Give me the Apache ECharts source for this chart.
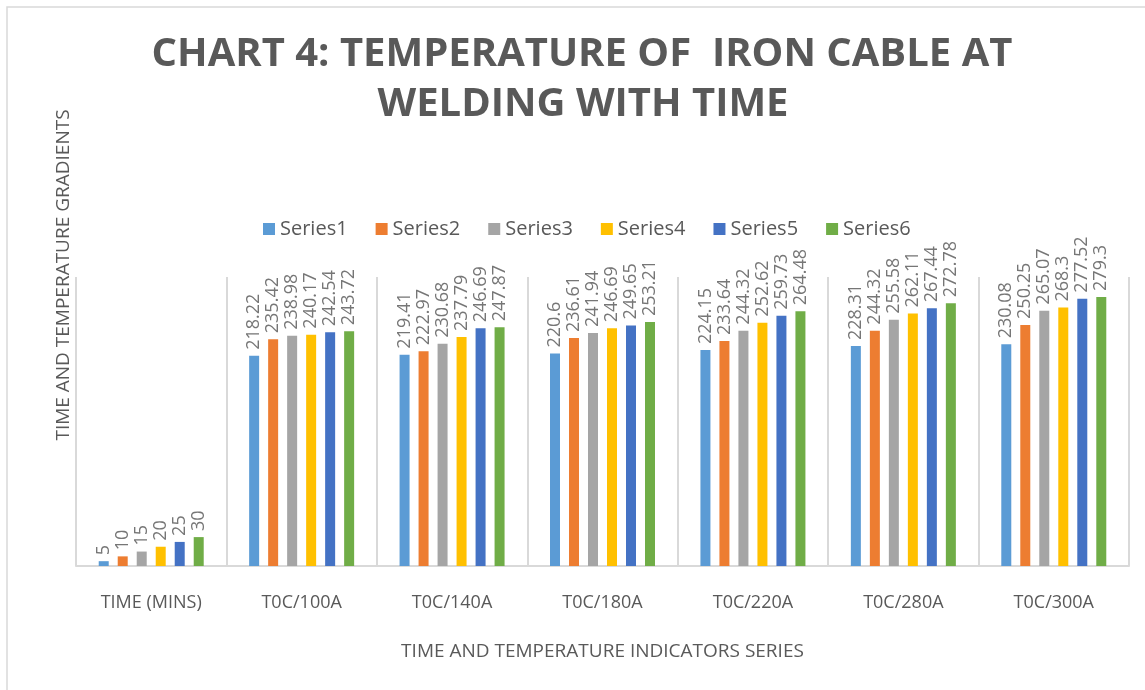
<!DOCTYPE html>
<html>
<head>
<meta charset="utf-8">
<script src="https://cdn.jsdelivr.net/npm/echarts@6/dist/echarts.min.js"></script>
<style>html,body{margin:0;padding:0;background:#fff;}#c{width:1145px;height:690px;}</style>
</head>
<body>
<div id="c"></div>
<script>
const categories = ['TIME (MINS)', 'T0C/100A', 'T0C/140A', 'T0C/180A', 'T0C/220A', 'T0C/280A', 'T0C/300A'];
const seriesNames = ['Series1', 'Series2', 'Series3', 'Series4', 'Series5', 'Series6'];
const series1 = [5, 218.22, 219.41, 220.6, 224.15, 228.31, 230.08];
const series2 = [10, 235.42, 222.97, 236.61, 233.64, 244.32, 250.25];
const series3 = [15, 238.98, 230.68, 241.94, 244.32, 255.58, 265.07];
const series4 = [20, 240.17, 237.79, 246.69, 252.62, 262.11, 268.3];
const series5 = [25, 242.54, 246.69, 249.65, 259.73, 267.44, 277.52];
const series6 = [30, 243.72, 247.87, 253.21, 264.48, 272.78, 279.3];
const colors = ['#5B9BD5', '#ED7D31', '#A5A5A5', '#FFC000', '#4472C4', '#70AD47'];

const allData = [series1, series2, series3, series4, series5, series6];
const font = '"Open Sans", "Noto Sans", sans-serif';

const chart = echarts.init(document.getElementById('c'));
chart.setOption({
  animation: false,
  color: colors,
  graphic: [
    { type: 'rect', shape: { x: 7, y: 7, width: 1150, height: 700 }, style: { fill: 'none', stroke: '#d9d9d9', lineWidth: 1.5 } },
    { type: 'text', x: 582, y: 55, style: { text: 'CHART 4: TEMPERATURE OF  IRON CABLE AT', font: 'bold 40px ' + font, fill: '#595959', align: 'center', verticalAlign: 'middle' } },
    { type: 'text', x: 583, y: 105, style: { text: 'WELDING WITH TIME', font: 'bold 40px ' + font, fill: '#595959', align: 'center', verticalAlign: 'middle' } },
    { type: 'text', x: 64, y: 275, rotation: Math.PI / 2, style: { text: 'TIME AND TEMPERATURE GRADIENTS', font: '19px ' + font, fill: '#595959', align: 'center', verticalAlign: 'middle' } }
  ],
  legend: {
    top: 214,
    left: 258,
    itemWidth: 12,
    itemHeight: 12,
    itemGap: 28,
    icon: 'rect',
    textStyle: { fontSize: 20, color: '#595959', fontFamily: font },
    data: seriesNames
  },
  grid: { left: 76, right: 16, top: 277, bottom: 124, containLabel: false },
  xAxis: {
    type: 'category',
    data: categories,
    axisLine: { lineStyle: { color: '#d9d9d9', width: 2 } },
    axisTick: { show: false },
    axisLabel: { fontSize: 18, color: '#595959', fontFamily: font, margin: 28 },
    splitLine: { show: true, lineStyle: { color: '#d9d9d9', width: 2 } },
    name: 'TIME AND TEMPERATURE INDICATORS SERIES',
    nameLocation: 'middle',
    nameGap: 76,
    nameTextStyle: { fontSize: 19, color: '#595959', fontFamily: font }
  },
  yAxis: {
    type: 'value',
    min: 0,
    max: 300,
    interval: 50,
    axisLine: { show: false },
    axisTick: { show: false },
    axisLabel: { show: false },
    splitLine: { show: false }
  },
  series: seriesNames.map((n, i) => ({
    name: n,
    type: 'bar',
    data: allData[i],
    barWidth: 10,
    barGap: '90%',
    itemStyle: { color: colors[i] },
    label: {
      show: true,
      position: 'top',
      rotate: 90,
      align: 'left',
      verticalAlign: 'middle',
      distance: 6,
      fontSize: 18,
      color: '#767676',
      fontFamily: font
    }
  }))
});
</script>
</body>
</html>
